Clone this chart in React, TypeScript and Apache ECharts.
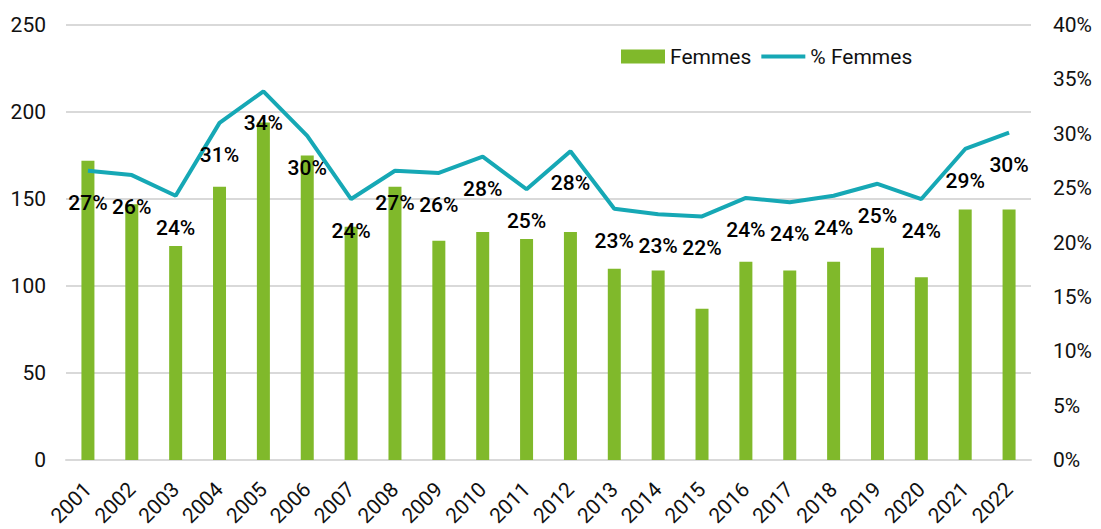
import React, { useEffect, useRef } from "react";
import * as echarts from "echarts";

const years = ["2001","2002","2003","2004","2005","2006","2007","2008","2009","2010","2011","2012","2013","2014","2015","2016","2017","2018","2019","2020","2021","2022"];
const femmes = [172,147,123,157,194,175,134,157,126,131,127,131,110,109,87,114,109,114,122,105,144,144];
const pctFemmes = [26.6,26.2,24.3,31.0,33.9,29.8,24.0,26.6,26.4,27.9,24.9,28.4,23.1,22.6,22.4,24.1,23.7,24.3,25.4,24.0,28.6,30.1];
const leftTicks = { min: 0, max: 250, interval: 50 };
const rightTicks = { min: 0, max: 40, interval: 5 };

const FONT = "Roboto";
const GREEN = "#80b92b";
const TEAL = "#16a8b5";

export default function App() {
  const ref = useRef<HTMLDivElement>(null);
  useEffect(() => {
    if (!ref.current) return;
    const chart = echarts.init(ref.current, null, { renderer: "svg" });
    chart.setOption({
      animation: false,
      backgroundColor: "#ffffff",
      textStyle: { fontFamily: FONT },
      legend: {
        left: 616,
        top: 41,
        itemWidth: 44,
        itemHeight: 14,
        itemGap: 8,
        textStyle: { fontSize: 21, color: "#111", fontFamily: FONT },
        data: [
          { name: "Femmes", icon: "rect" },
          { name: "% Femmes", itemStyle: { opacity: 0 }, lineStyle: { width: 4, color: TEAL } },
        ],
      },
      grid: { left: 66, right: 70, top: 25, bottom: 67, containLabel: false },
      xAxis: {
        type: "category",
        data: years,
        axisTick: { show: false },
        axisLine: { lineStyle: { color: "#d9d9d9", width: 2 } },
        axisLabel: { rotate: 45, fontSize: 21, color: "#111", margin: 26, fontFamily: FONT, interval: 0 },
      },
      yAxis: [
        {
          type: "value",
          min: leftTicks.min,
          max: leftTicks.max,
          interval: leftTicks.interval,
          axisLabel: { fontSize: 21, color: "#111", margin: 20, fontFamily: FONT },
          splitLine: { lineStyle: { color: "#d9d9d9", width: 2 } },
          axisLine: { show: false },
          axisTick: { show: false },
        },
        {
          type: "value",
          min: rightTicks.min,
          max: rightTicks.max,
          interval: rightTicks.interval,
          axisLabel: { fontSize: 21, color: "#111", margin: 22, fontFamily: FONT, formatter: "{value}%" },
          splitLine: { show: false },
          axisLine: { show: false },
          axisTick: { show: false },
        },
      ],
      series: [
        {
          name: "Femmes",
          type: "bar",
          data: femmes,
          barWidth: 13,
          itemStyle: { color: GREEN },
          yAxisIndex: 0,
        },
        {
          name: "% Femmes",
          type: "line",
          data: pctFemmes,
          yAxisIndex: 1,
          symbol: "circle",
          symbolSize: 1,
          showSymbol: true,
          lineStyle: { color: TEAL, width: 4 },
          itemStyle: { color: "rgba(0,0,0,0)", borderWidth: 0 },
          label: {
            show: true,
            position: "bottom",
            distance: 21,
            fontSize: 21,
            fontWeight: 500,
            color: "#000",
            fontFamily: FONT,
            formatter: (p: any) => Math.round(p.value) + "%",
          },
          labelLayout: { hideOverlap: false },
          z: 5,
        },
      ],
    });
    return () => chart.dispose();
  }, []);
  return (
    <div
      ref={ref}
      style={{ position: "absolute", left: 0, top: 0, width: 1101, height: 529 }}
    />
  );
}
